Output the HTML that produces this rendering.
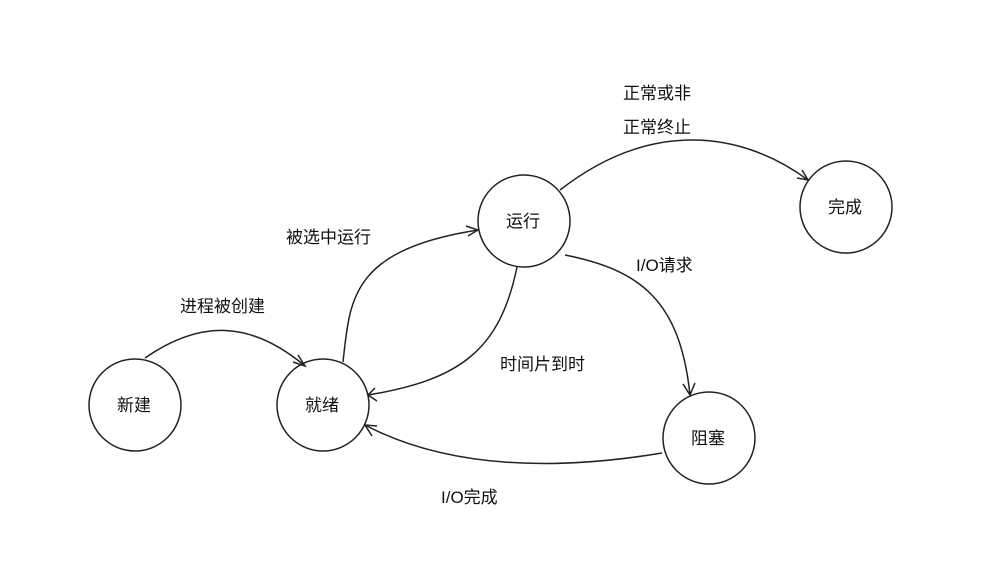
<!DOCTYPE html>
<html><head><meta charset="utf-8"><style>
body{margin:0;background:#fff;}
svg text{font-family:"Liberation Sans","Noto Sans CJK SC",sans-serif;font-size:17px;fill:#111;}
</style></head><body>
<svg width="1002" height="574" xmlns="http://www.w3.org/2000/svg">
<g fill="none" stroke="#222" stroke-width="1.5">
<circle cx="135" cy="405" r="46"/>
<circle cx="323" cy="405" r="46"/>
<circle cx="524" cy="221" r="46"/>
<circle cx="846" cy="207" r="46"/>
<circle cx="709" cy="438" r="46"/>
<path d="M145 358 C200 320 250 320 305 366"/>
<path d="M298 355 L305 366 L293 362"/>
<path d="M343 362 C350 300 350 250 478 230"/>
<path d="M466 226 L478 230 L468 236"/>
<path d="M517 267 C500 350 460 380 368 395"/>
<path d="M375 388 L368 395 L377 401"/>
<path d="M565 255 C640 270 680 300 690 395"/>
<path d="M683 384 L690 395 L695 383"/>
<path d="M560 190 C650 120 740 130 808 180"/>
<path d="M797 178 L808 180 L802 170"/>
<path d="M662 453 C560 470 450 470 365 425"/>
<path d="M372 436 L365 425 L377 426"/>
</g>
<text x="117" y="411">新建</text>
<text x="305" y="411">就绪</text>
<text x="506" y="227">运行</text>
<text x="828" y="213">完成</text>
<text x="691" y="444">阻塞</text>
<text x="180" y="312">进程被创建</text>
<text x="286" y="243">被选中运行</text>
<text x="500" y="370">时间片到时</text>
<text x="636" y="271">I/O请求</text>
<text x="623" y="99">正常或非</text>
<text x="623" y="133">正常终止</text>
<text x="441" y="503">I/O完成</text>
</svg>
</body></html>
